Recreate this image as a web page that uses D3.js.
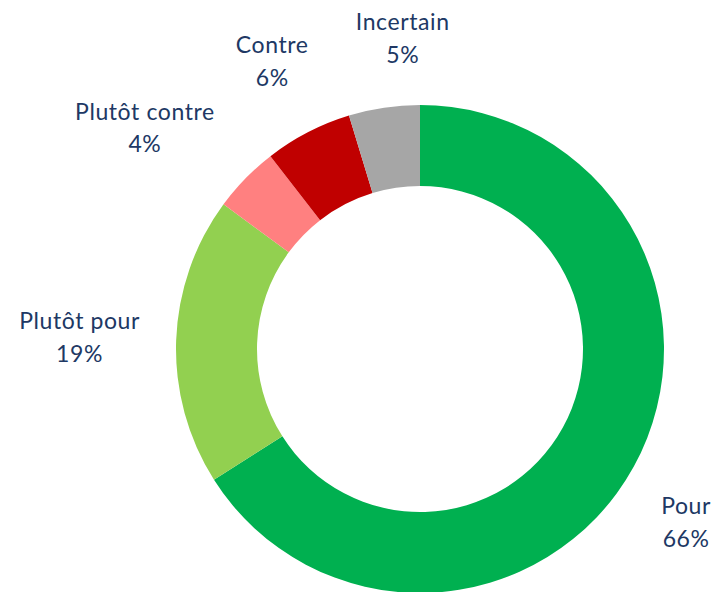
<!DOCTYPE html>
<html>
<head>
<meta charset="utf-8">
<script src="https://cdn.jsdelivr.net/npm/d3@7"></script>
<style>
  body { margin: 0; background: #fff; }
  svg { display: block; }
  .label { font-family: Lato, "Open Sans", sans-serif; font-size: 23px; letter-spacing: 0.6px; fill: #203864; }
</style>
</head>
<body>
<div class="container"></div>
<script>
const categories = ["Pour", "Plutôt pour", "Plutôt contre", "Contre", "Incertain"];
const values = [66.0, 19.1, 4.4, 5.8, 4.7];
const colors = ["#00B050", "#92D050", "#FF8080", "#C00000", "#A6A6A6"];

const WIDTH = 713, HEIGHT = 592;
const CENTER = { x: 420, y: 349 };
const OUTER = 244, INNER = 163;
const LABEL_RADIUS = 280; // nearest edge of a label box sits on this circle
const LINE_HEIGHT = 32.5;
const EDGE = 2;
const MIN_GAP = (24 * Math.PI) / 180; // min angle between neighbouring labels

const svg = d3.select(".container")
  .append("svg")
  .attr("viewBox", [0, 0, WIDTH, HEIGHT])
  .attr("width", WIDTH)
  .attr("height", HEIGHT);

const g = svg.append("g").attr("transform", `translate(${CENTER.x},${CENTER.y})`);

const pie = d3.pie().sort(null).value((d) => d);
const arcs = pie(values);
const arc = d3.arc().innerRadius(INNER).outerRadius(OUTER);

g.append("g")
  .selectAll("path")
  .data(arcs)
  .join("path")
  .attr("fill", (d, i) => colors[i])
  .attr("d", arc);

// label angles: start at the slice middle, then spread crowded neighbours apart
const angles = arcs.map((d) => (d.startAngle + d.endAngle) / 2);
for (let it = 0; it < 100; it++) {
  for (let i = 0; i < angles.length - 1; i++) {
    const gap = angles[i + 1] - angles[i];
    if (gap < MIN_GAP) {
      const push = (MIN_GAP - gap) / 2;
      angles[i] -= push;
      angles[i + 1] += push;
    }
  }
}

const labels = g.append("g")
  .selectAll("text")
  .data(arcs)
  .join("text")
  .attr("class", "label")
  .attr("text-anchor", "middle");

labels.append("tspan").attr("x", 0).attr("y", -LINE_HEIGHT / 4).text((d, i) => categories[i]);
labels.append("tspan").attr("x", 0).attr("y", LINE_HEIGHT * 3 / 4).text((d) => `${Math.round(d.value)}%`);

function boxDist(cx, cy, a, b) {
  const dx = Math.max(Math.abs(cx) - a, 0);
  const dy = Math.max(Math.abs(cy) - b, 0);
  return Math.hypot(dx, dy);
}

// box centre on the label ray, pushed out until it clears LABEL_RADIUS
labels.attr("transform", function (d, i) {
  const s = Math.sin(angles[i]), c = -Math.cos(angles[i]);
  const w = d3.max(this.querySelectorAll("tspan"), (t) => t.getComputedTextLength());
  const a = w / 2, b = LINE_HEIGHT * 0.95;
  let lo = 0, hi = 800;
  for (let k = 0; k < 40; k++) {
    const m = (lo + hi) / 2;
    if (boxDist(m * s, m * c, a, b) < LABEL_RADIUS) lo = m; else hi = m;
  }
  let x = hi * s, y = hi * c;
  // keep the box inside the chart, sliding it round the label circle
  const maxX = WIDTH - EDGE - a - CENTER.x, minX = EDGE + a - CENTER.x;
  if (x > maxX || x < minX) {
    x = Math.max(minX, Math.min(maxX, x));
    const dx = Math.max(Math.abs(x) - a, 0);
    y = Math.sign(y) * (Math.sqrt(Math.max(LABEL_RADIUS ** 2 - dx ** 2, 0)) + b);
  }
  return `translate(${x},${y})`;
});
</script>
</body>
</html>
